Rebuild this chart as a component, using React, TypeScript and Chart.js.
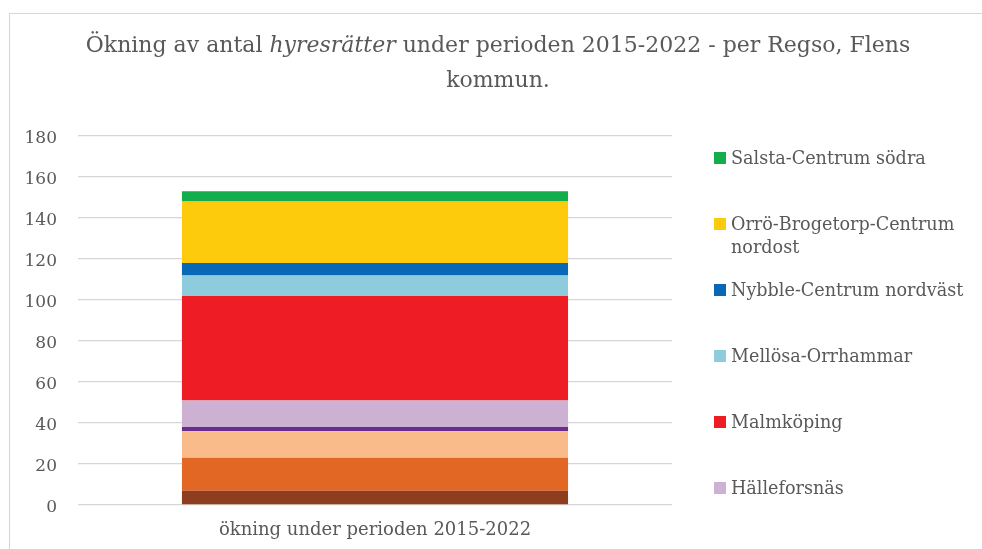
import React, { useEffect, useRef } from "react";
import { Chart, registerables } from "chart.js";

Chart.register(...registerables);

// ---------- data ----------
const categories = ["ökning under perioden 2015-2022"];
const seriesNames = [
  "Bettna",
  "Dunker-Lilla Malma",
  "Flen-Centrum västra",
  "Flen-Centrum östra",
  "Hälleforsnäs",
  "Malmköping",
  "Mellösa-Orrhammar",
  "Nybble-Centrum nordväst",
  "Orrö-Brogetorp-Centrum nordost",
  "Salsta-Centrum södra",
];
const seriesValues = [7, 16, 13, 2, 13, 51, 10, 6, 30, 5];
const seriesColors = [
  "#8E3E1E",
  "#E26624",
  "#F9BB89",
  "#6A2D8F",
  "#CDB1D3",
  "#EE1C25",
  "#8ECBDC",
  "#0868B5",
  "#FDCA0C",
  "#14AD4D",
];
const yTickMin = 0;
const yTickMax = 180;
const yTickStep = 20;
const titleLine1 = [
  { text: "Ökning av antal ", italic: false },
  { text: "hyresrätter", italic: true },
  { text: " under perioden 2015-2022 - per Regso, Flens", italic: false },
];
const titleLine2 = "kommun.";
const legendVisibleCount = 6;

// ---------- styling ----------
const FONT = "'DejaVu Serif', 'Liberation Serif', serif";
const TEXT = "#595959";
const GRID = "#d6d6d6";

const framePlugin = {
  id: "frame",
  beforeDraw(chart: any) {
    const ctx = chart.ctx;
    ctx.save();
    ctx.fillStyle = "#ffffff";
    ctx.fillRect(0, 0, chart.width, chart.height);
    ctx.strokeStyle = GRID;
    ctx.lineWidth = 1;
    ctx.strokeRect(9.5, 13.5, chart.width + 10, chart.height + 10);
    ctx.restore();
  },
};

const titlePlugin = {
  id: "mixedTitle",
  afterDraw(chart: any) {
    const ctx = chart.ctx;
    const size = 22;
    const cx = 498;
    ctx.save();
    ctx.fillStyle = TEXT;
    ctx.textBaseline = "middle";
    ctx.textAlign = "left";
    const fontOf = (it: boolean) => `${it ? "italic " : ""}${size}px ${FONT}`;
    let total = 0;
    const widths = titleLine1.map((p) => {
      ctx.font = fontOf(p.italic);
      const w = ctx.measureText(p.text).width;
      total += w;
      return w;
    });
    let x = cx - total / 2;
    titleLine1.forEach((p, i) => {
      ctx.font = fontOf(p.italic);
      ctx.fillText(p.text, x, 46);
      x += widths[i];
    });
    ctx.font = fontOf(false);
    ctx.textAlign = "center";
    ctx.fillText(titleLine2, cx, 81);
    ctx.restore();
  },
};

function wrapText(ctx: CanvasRenderingContext2D, text: string, maxW: number) {
  const words = text.split(" ");
  const lines: string[] = [];
  let cur = "";
  words.forEach((w) => {
    const test = cur ? cur + " " + w : w;
    if (cur && ctx.measureText(test).width > maxW) {
      lines.push(cur);
      cur = w;
    } else {
      cur = test;
    }
  });
  if (cur) lines.push(cur);
  return lines;
}

const legendPlugin = {
  id: "sideLegend",
  afterDraw(chart: any) {
    const ctx = chart.ctx;
    const items = chart.data.datasets
      .map((d: any) => ({ label: d.label, color: d.backgroundColor }))
      .reverse()
      .slice(0, legendVisibleCount);
    const left = 714;
    const top = 158;
    const step = 66;
    ctx.save();
    ctx.font = `17.6px ${FONT}`;
    ctx.textBaseline = "middle";
    ctx.textAlign = "left";
    items.forEach((it: any, i: number) => {
      const y = top + i * step;
      ctx.fillStyle = it.color;
      ctx.fillRect(left, y - 6, 12, 12);
      ctx.fillStyle = TEXT;
      const lines = wrapText(ctx, it.label, 250);
      lines.forEach((ln, j) => ctx.fillText(ln, left + 17, y + 1 + j * 23));
    });
    ctx.restore();
  },
};

export default function App() {
  const ref = useRef<HTMLCanvasElement | null>(null);
  useEffect(() => {
    if (!ref.current) return;
    const chart = new Chart(ref.current, {
      type: "bar",
      data: {
        labels: categories,
        datasets: seriesNames.map((name, i) => ({
          label: name,
          data: [seriesValues[i]],
          backgroundColor: seriesColors[i],
          borderWidth: 0,
          categoryPercentage: 0.65,
          barPercentage: 1,
        })),
      },
      options: {
        responsive: true,
        maintainAspectRatio: false,
        animation: false,
        events: [],
        layout: { padding: { top: 136, right: 310, bottom: 0, left: 0 } },
        plugins: {
          legend: { display: false },
          title: { display: false },
          tooltip: { enabled: false },
        },
        scales: {
          x: {
            stacked: true,
            grid: { display: false, drawTicks: false },
            border: { display: false },
            ticks: { color: TEXT, font: { family: FONT, size: 18 }, padding: 15 },
            afterFit: (s: any) => {
              s.height = 44;
            },
          },
          y: {
            stacked: true,
            min: yTickMin,
            max: yTickMax,
            ticks: {
              stepSize: yTickStep,
              color: TEXT,
              font: { family: FONT, size: 17 },
              padding: 21,
              labelOffset: 3,
            },
            grid: { color: GRID, lineWidth: 1.3, drawTicks: false },
            border: { display: false },
            afterFit: (s: any) => {
              s.width = 78;
            },
          },
        },
      },
      plugins: [framePlugin, titlePlugin, legendPlugin],
    });
    return () => chart.destroy();
  }, []);
  return (
    <div style={{ position: "absolute", left: 0, top: 0, width: 982, height: 549 }}>
      <canvas ref={ref} />
    </div>
  );
}
